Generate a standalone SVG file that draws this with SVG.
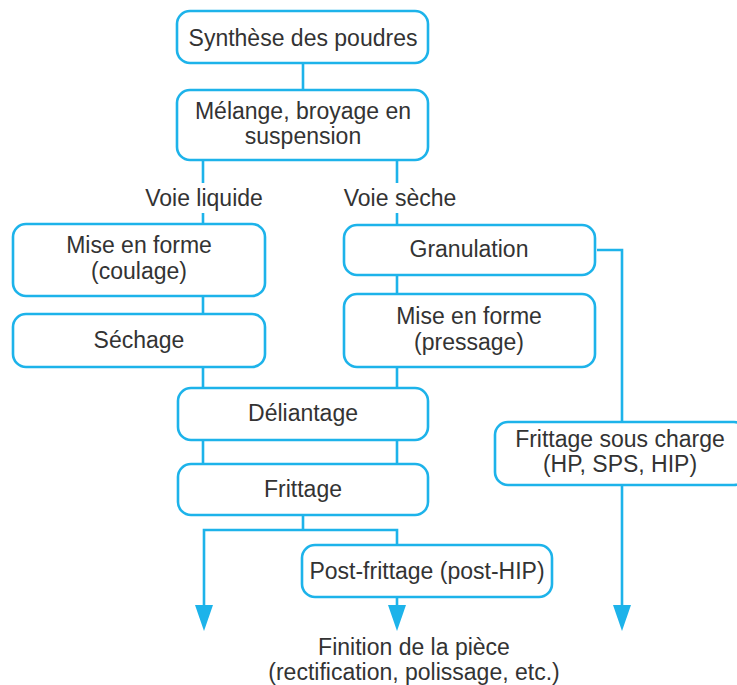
<svg xmlns="http://www.w3.org/2000/svg" width="737" height="685" viewBox="0 0 737 685">
<defs>
<style>
.box{fill:#fff;stroke:#1db3ea;stroke-width:2.6}
.ln{fill:none;stroke:#1db3ea;stroke-width:2.6}
text{font-family:"Liberation Sans",Arial,sans-serif;font-size:23px;fill:#333;text-anchor:middle}
</style>
</defs>
<rect width="737" height="685" fill="#fff"/>
<g id="connectors">
<line class="ln" x1="303" y1="63" x2="303" y2="90"/>
<line class="ln" x1="203" y1="160" x2="203" y2="183"/>
<line class="ln" x1="397" y1="160" x2="397" y2="183"/>
<line class="ln" x1="203" y1="213" x2="203" y2="224"/>
<line class="ln" x1="397" y1="213" x2="397" y2="225"/>
<line class="ln" x1="203" y1="296" x2="203" y2="314"/>
<line class="ln" x1="397" y1="275" x2="397" y2="294"/>
<line class="ln" x1="203" y1="367" x2="203" y2="388"/>
<line class="ln" x1="397" y1="367" x2="397" y2="388"/>
<line class="ln" x1="203" y1="440" x2="203" y2="464"/>
<line class="ln" x1="397" y1="440" x2="397" y2="464"/>
<polyline class="ln" points="303,515 303,530"/>
<polyline class="ln" points="204,612 204,530 397,530 397,545"/>
<path d="M195,605 L213,605 L204,631 Z" fill="#1db3ea"/>
<line class="ln" x1="397" y1="597" x2="397" y2="612"/>
<path d="M388,605 L406,605 L397,631 Z" fill="#1db3ea"/>
<polyline class="ln" points="597,250 622,250 622,422"/>
<line class="ln" x1="622" y1="485" x2="622" y2="612"/>
<path d="M613,605 L631,605 L622,631 Z" fill="#1db3ea"/>
</g>
<g id="n1"><rect class="box" x="177" y="11" width="251" height="52" rx="13"/><text x="303" y="46">Synthèse des poudres</text></g>
<g id="n2"><rect class="box" x="177" y="90" width="251" height="70" rx="13"/><text x="303" y="119">Mélange, broyage en</text><text x="303" y="144">suspension</text></g>
<g id="lbl1"><text x="204" y="206">Voie liquide</text></g>
<g id="lbl2"><text x="400" y="206">Voie sèche</text></g>
<g id="n3"><rect class="box" x="13" y="224" width="252" height="72" rx="13"/><text x="139" y="253">Mise en forme</text><text x="139" y="279">(coulage)</text></g>
<g id="n4"><rect class="box" x="13" y="314" width="252" height="53" rx="13"/><text x="139" y="348">Séchage</text></g>
<g id="n5"><rect class="box" x="344" y="225" width="251" height="50" rx="13"/><text x="469" y="257">Granulation</text></g>
<g id="n6"><rect class="box" x="344" y="294" width="251" height="73" rx="13"/><text x="469" y="324">Mise en forme</text><text x="469" y="350">(pressage)</text></g>
<g id="n7"><rect class="box" x="178" y="388" width="250" height="52" rx="13"/><text x="303" y="421">Déliantage</text></g>
<g id="n8"><rect class="box" x="178" y="464" width="250" height="51" rx="13"/><text x="303" y="497">Frittage</text></g>
<g id="n9"><rect class="box" x="302" y="545" width="250" height="52" rx="13"/><text x="427" y="579">Post-frittage (post-HIP)</text></g>
<g id="n10"><rect class="box" x="495" y="422" width="252" height="63" rx="13"/><text x="620" y="447">Frittage sous charge</text><text x="620" y="472">(HP, SPS, HIP)</text></g>
<g id="n11"><text x="414" y="655">Finition de la pièce</text><text x="414" y="680">(rectification, polissage, etc.)</text></g>
</svg>
